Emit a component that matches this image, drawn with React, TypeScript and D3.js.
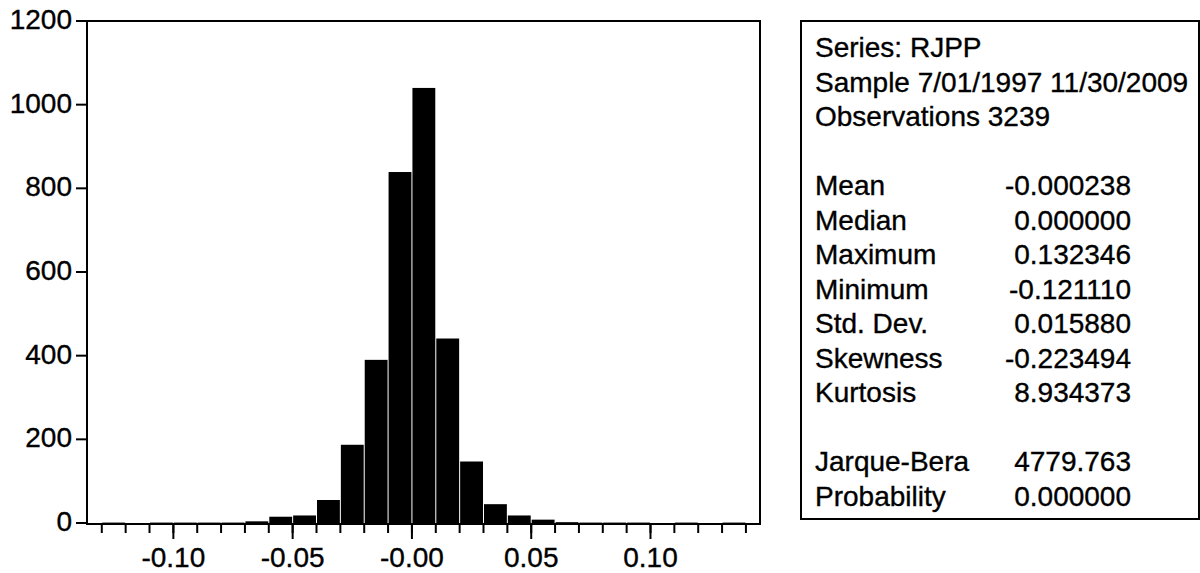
import React from "react";
import * as d3 from "d3";

const binStarts = [-0.13, -0.12, -0.11, -0.10, -0.09, -0.08, -0.07, -0.06, -0.05, -0.04, -0.03, -0.02, -0.01, 0.0, 0.01, 0.02, 0.03, 0.04, 0.05, 0.06, 0.07, 0.08, 0.09, 0.10, 0.11, 0.12, 0.13];
const counts = [1, 0, 1, 1, 1, 1, 4, 15, 18, 55, 187, 390, 839, 1040, 441, 147, 45, 18, 8, 2, 1, 1, 1, 0, 1, 0, 1];
const binWidth = 0.01;
const yTicks = [0, 200, 400, 600, 800, 1000, 1200];
const xMajor = [-0.1, -0.05, 0, 0.05, 0.1];
const xMajorLabels = ["-0.10", "-0.05", "-0.00", "0.05", "0.10"];
const xMinor = d3.range(-13, 15).map((i) => i / 100);

const statHeader = ["Series: RJPP", "Sample 7/01/1997 11/30/2009", "Observations 3239"];
const statNames = ["Mean", "Median", "Maximum", "Minimum", "Std. Dev.", "Skewness", "Kurtosis"];
const statValues = ["-0.000238", "0.000000", "0.132346", "-0.121110", "0.015880", "-0.223494", "8.934373"];
const testNames = ["Jarque-Bera", "Probability"];
const testValues = ["4779.763", "0.000000"];

const FONT = "'Liberation Sans', Arial, sans-serif";
const FS = 28;

export default function App() {
  const left = 87, right = 760, top = 21, bottom = 524;
  const x = d3.scaleLinear().domain([-0.1362, 0.1459]).range([left, right]);
  const y = d3.scaleLinear().domain([0, 1200]).range([bottom - 1, top]);

  const boxL = 801, boxR = 1199, boxT = 21, boxB = 519;
  const lineH = 34.5;
  const base0 = 57;
  const labelX = 815;
  const valueX = 1131;

  const txt = { fontSize: FS, fill: "#000", stroke: "#000", strokeWidth: 0.35 } as const;

  return (
    <svg
      width={1200}
      height={573}
      style={{ position: "absolute", left: 0, top: 0, background: "#fff" }}
      fontFamily={FONT}
    >
      <rect x={0} y={0} width={1200} height={573} fill="#fff" />
      {binStarts.map((b, i) =>
        counts[i] > 0 ? (
          <rect
            key={i}
            x={x(b) + 0.5}
            width={x(b + binWidth) - x(b) - 1}
            y={y(counts[i])}
            height={y(0) - y(counts[i])}
            fill="#000"
          />
        ) : null
      )}
      <rect x={left} y={top} width={right - left} height={bottom - top} fill="none" stroke="#000" strokeWidth={2} />
      {yTicks.map((t) => (
        <g key={t}>
          <line x1={left - 11} x2={left} y1={y(t)} y2={y(t)} stroke="#000" strokeWidth={2} />
          <text x={left - 15} y={y(t) + 8} textAnchor="end" {...txt}>
            {t}
          </text>
        </g>
      ))}
      {xMinor.map((t, i) => (
        <line key={i} x1={x(t)} x2={x(t)} y1={bottom} y2={bottom + 9} stroke="#000" strokeWidth={2} />
      ))}
      {xMajor.map((t, i) => (
        <g key={"M" + i}>
          <line x1={x(t)} x2={x(t)} y1={bottom} y2={bottom + 15} stroke="#000" strokeWidth={2} />
          <text x={x(t)} y={567} textAnchor="middle" {...txt}>
            {xMajorLabels[i]}
          </text>
        </g>
      ))}
      <rect x={boxL} y={boxT} width={boxR - boxL} height={boxB - boxT} fill="#fff" stroke="#000" strokeWidth={2} />
      {statHeader.map((s, i) => (
        <text key={"h" + i} x={labelX} y={base0 + i * lineH} {...txt}>
          {s}
        </text>
      ))}
      {statNames.map((s, i) => (
        <g key={"s" + i}>
          <text x={labelX} y={base0 + (i + 4) * lineH} {...txt}>
            {s}
          </text>
          <text x={valueX} y={base0 + (i + 4) * lineH} textAnchor="end" {...txt}>
            {statValues[i]}
          </text>
        </g>
      ))}
      {testNames.map((s, i) => (
        <g key={"t" + i}>
          <text x={labelX} y={base0 + (i + 12) * lineH} {...txt}>
            {s}
          </text>
          <text x={valueX} y={base0 + (i + 12) * lineH} textAnchor="end" {...txt}>
            {testValues[i]}
          </text>
        </g>
      ))}
    </svg>
  );
}
